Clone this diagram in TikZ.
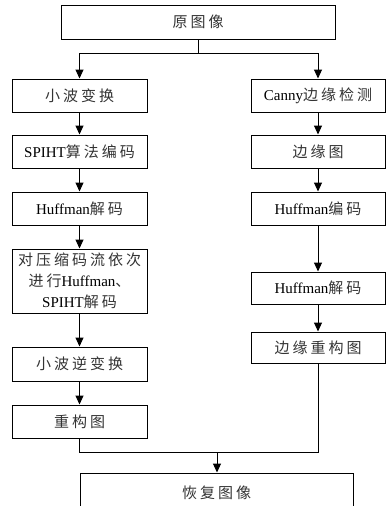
\documentclass[tikz,border=0pt]{standalone}
\usepackage{fontspec}
\setmainfont{Liberation Serif}
\newfontfamily\cjk[LetterSpace=20]{Noto Sans CJK SC}
\usetikzlibrary{arrows.meta}
\newcommand{\zh}[1]{{\cjk\color{black!80}#1}}
\begin{document}
\begin{tikzpicture}[x=1pt,y=-1pt,
  box/.style={draw, line width=1pt, inner sep=0pt, font=\fontsize{15pt}{21pt}\selectfont, align=center},
  lbox/.style={box, minimum width=135pt, minimum height=33pt},
  rbox/.style={box, minimum width=134pt, minimum height=33pt},
  arr/.style={line width=1pt, -{Triangle[length=9pt,width=8pt]}},
  ln/.style={line width=1pt}]
\useasboundingbox (0,0) rectangle (386,506);
\clip (0,0) rectangle (386,506);
\node[box, minimum width=274pt, minimum height=34pt] (top) at (198,22) {\zh{原图像}};
% left column
\node[lbox] (l1) at (79.5,95.5) {\zh{小波变换}};
\node[lbox] (l2) at (79.5,151.5) {SPIHT\zh{算法编码}};
\node[lbox] (l3) at (79.5,208.5) {Huffman\zh{解码}};
\node[lbox, minimum height=64pt] (l4) at (79.5,281) {\zh{对压缩码流依次}\\\zh{进行}Huffman\zh{、}\\SPIHT\zh{解码}};
\node[lbox, minimum height=34pt] (l5) at (79.5,364) {\zh{小波逆变换}};
\node[lbox] (l6) at (79.5,421.5) {\zh{重构图}};
% right column
\node[rbox] (r1) at (318,95.5) {Canny\zh{边缘检测}};
\node[rbox] (r2) at (318,151.5) {\zh{边缘图}};
\node[rbox] (r3) at (318,208.5) {Huffman\zh{编码}};
\node[rbox, minimum height=32pt] (r4) at (318,288) {Huffman\zh{解码}};
\node[rbox, minimum height=31pt] (r5) at (318,347.5) {\zh{边缘重构图}};
% bottom
\node[box, minimum width=273pt, minimum height=39pt] (bot) at (216.5,492.5) {\zh{恢复图像}};
% connectors
\coordinate (b) at (198,53);
\draw[ln] (top.south) -- (b);
\draw[arr] (b) -| (l1.north);
\draw[arr] (b) -| (r1.north);
\draw[arr] (l1) -- (l2);
\draw[arr] (l2) -- (l3);
\draw[arr] (l3) -- (l4);
\draw[arr] (l4) -- (l5);
\draw[arr] (l5) -- (l6);
\draw[arr] (r1) -- (r2);
\draw[arr] (r2) -- (r3);
\draw[arr] (r3) -- (r4);
\draw[arr] (r4) -- (r5);
\coordinate (j) at (217,452);
\draw[ln] (l6.south) |- (r5.south |- j) -- (r5.south);
\draw[arr] (j) -- (j |- bot.north);
\end{tikzpicture}
\end{document}
